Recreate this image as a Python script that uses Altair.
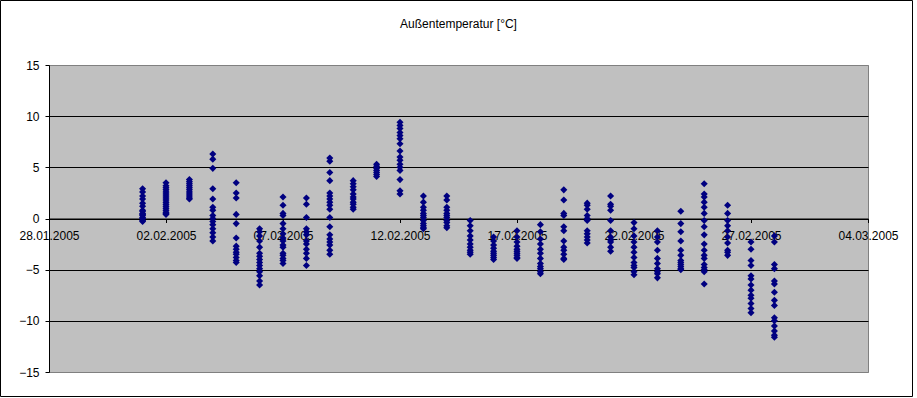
import altair as alt
import pandas as pd

days = ["2005-02-%02d" % d for d in range(1, 29)]

d01 = [2.9, 2.6, 2.2, 1.9, 1.5, 1.2, 0.8, 0.7, 0.5, 0.4, 0.3, 0.1, 0.0, -0.2, -0.3]
d02 = [3.5, 3.2, 3.0, 2.8, 2.6, 2.4, 2.2, 2.0, 1.8, 1.6, 1.4, 1.2, 1.0, 0.8, 0.6, 0.5, 0.4]
d03 = [3.8, 3.6, 3.4, 3.2, 3.0, 2.8, 2.6, 2.4, 2.2, 2.0, 1.9]
d04 = [6.3, 5.8, 4.9, 2.9, 1.9, 1.1, 0.8, 0.3, 0.0, -0.3, -0.6, -1.0, -1.4, -1.8, -2.2]
d05 = [3.5, 2.5, 2.0, 0.4, -0.5, -1.9, -2.7, -3.0, -3.3, -3.5, -3.8, -4.1, -4.3]
d06 = [-1.0, -1.3, -1.7, -2.2, -2.8, -3.4, -3.7, -4.0, -4.3, -4.6, -4.9, -5.2, -5.6, -6.1, -6.5]
d07 = [2.1, 1.3, 0.5, 0.3, -0.5, -1.0, -1.5, -1.9, -2.2, -2.6, -2.8, -3.4, -3.6, -3.9, -4.1, -4.4]
d08 = [2.0, 1.4, 0.1, -1.0, -1.3, -1.6, -2.2, -2.5, -3.0, -3.4, -3.9, -4.6]
d09 = [5.9, 5.6, 4.5, 3.7, 2.5, 2.2, 1.9, 1.6, 1.3, 0.9, 0.1, -0.8, -1.6, -2.0, -2.3, -2.6, -3.1, -3.5]
d10 = [3.7, 3.4, 3.1, 2.8, 2.4, 2.1, 1.9, 1.6, 1.4, 1.1, 0.9]
d11 = [5.3, 5.1, 4.9, 4.7, 4.5, 4.3, 4.1]
d12 = [9.4, 9.1, 8.8, 8.4, 8.1, 7.8, 7.3, 6.6, 6.0, 5.7, 5.3, 5.0, 4.7, 3.8, 2.7, 2.4]
d13 = [2.2, 1.6, 1.1, 0.8, 0.5, 0.3, 0.1, -0.2, -0.5, -0.7, -0.9, -1.0]
d14 = [2.2, 1.8, 1.1, 0.8, 0.5, 0.3, 0.1, -0.2, -0.4, -0.7, -0.9]
d15 = [-0.2, -0.7, -1.2, -1.7, -2.1, -2.5, -2.8, -3.1, -3.3, -3.5]
d16 = [-1.8, -2.2, -2.6, -2.9, -3.2, -3.4, -3.6, -3.8, -4.0]
d17 = [-1.2, -1.8, -2.3, -2.7, -3.0, -3.2, -3.4, -3.6, -3.8, -3.9]
d18 = [-0.6, -1.3, -2.0, -2.5, -3.0, -3.4, -3.9, -4.4, -4.7, -4.9, -5.2, -5.4]
d19 = [2.8, 1.8, 0.5, 0.3, -0.8, -1.2, -2.2, -2.8, -3.1, -3.5, -3.9, -4.0]
d20 = [1.5, 1.3, 0.9, 0.3, 0.0, -0.2, -1.2, -1.5, -1.8, -2.1, -2.4]
d21 = [2.2, 1.4, 1.2, 0.8, -0.2, -1.2, -1.8, -2.1, -2.3, -2.8, -3.2]
d22 = [-0.4, -1.0, -1.7, -2.3, -2.8, -3.3, -3.8, -4.3, -4.6, -4.8, -5.2, -5.5]
d23 = [-1.2, -1.8, -2.3, -3.1, -3.9, -4.4, -4.9, -5.2, -5.4, -5.8]
d24 = [0.7, -0.5, -1.3, -2.2, -3.1, -3.6, -4.1, -4.3, -4.5, -4.7, -4.9, -5.0]
d25 = [3.4, 2.4, 2.1, 1.6, 1.1, 0.5, -0.2, -0.8, -1.6, -2.5, -3.1, -3.6, -3.9, -4.5, -4.8, -5.0, -5.2, -6.4]
d26 = [1.3, 0.5, -0.2, -0.7, -1.2, -1.8, -2.4, -3.1, -3.3, -3.6]
d27 = [-2.3, -3.0, -4.1, -4.6, -5.6, -5.9, -6.5, -7.0, -7.5, -7.8, -8.3, -8.8, -9.2]
d28 = [-1.7, -2.3, -4.5, -4.9, -6.1, -6.4, -7.2, -8.0, -8.5, -9.7, -10.0, -10.5, -11.0, -11.4, -11.6]

temps = [d01, d02, d03, d04, d05, d06, d07, d08, d09, d10, d11, d12, d13, d14,
         d15, d16, d17, d18, d19, d20, d21, d22, d23, d24, d25, d26, d27, d28]

x_tick_dates = ["2005-01-28", "2005-02-02", "2005-02-07", "2005-02-12",
                "2005-02-17", "2005-02-22", "2005-02-27", "2005-03-04"]
y_ticks = [-15, -10, -5, 0, 5, 10, 15]

title_text = "Außentemperatur [°C]"


def ms(d):
    return int(pd.Timestamp(d, tz="UTC").value // 10**6)


rows = [{"datum": ms(d), "temp": t} for d, ts in zip(days, temps) for t in ts]
df = pd.DataFrame(rows)

x_vals = [ms(d) for d in x_tick_dates]

FONT = "Liberation Sans"
W, H = 819, 307

points = alt.Chart(df).mark_point(
    shape="diamond", filled=True, size=50, color="#000080", opacity=1
).encode(
    x=alt.X(
        "datum:T",
        scale=alt.Scale(type="utc", domain=[x_vals[0], x_vals[-1]]),
        axis=alt.Axis(
            title=None,
            values=x_vals,
            labelExpr="utcFormat(datum.value, '%d.%m.%Y')",
            offset=-H / 2,
            grid=False,
            domainColor="black",
            tickColor="black",
            tickSize=4,
            labelPadding=8,
            labelFont=FONT,
            labelFontSize=12,
            labelColor="black",
            labelFlush=False,
            labelOverlap=False,
            labelBound=False,
        ),
    ),
    y=alt.Y(
        "temp:Q",
        scale=alt.Scale(domain=[-15, 15], nice=False, zero=False),
        axis=alt.Axis(
            title=None,
            values=y_ticks,
            grid=True,
            gridColor=alt.condition("abs(datum.value) == 15", alt.value("#808080"), alt.value("black")),
            gridOpacity=1,
            domainColor="black",
            tickColor="black",
            tickSize=4,
            labelPadding=6,
            labelFont=FONT,
            labelFontSize=12,
            labelColor="black",
            labelFlush=False,
        ),
    ),
)

frame = alt.Chart(pd.DataFrame({"k": [0]})).mark_rect(
    fill=None, stroke="black", strokeWidth=1
).encode(
    x=alt.value(-48.5), x2=alt.value(863.5),
    y=alt.value(-64.5), y2=alt.value(331.5),
)

title = alt.Chart(pd.DataFrame({"t": [title_text]})).mark_text(
    font=FONT, fontSize=12, color="black", align="center", baseline="middle"
).encode(
    text="t:N",
    x=alt.value(W / 2),
    y=alt.value(-41),
)

chart = alt.layer(frame, title, points).properties(
    width=W,
    height=H,
    autosize=alt.AutoSizeParams(type="none"),
    padding={"left": 49, "top": 65, "right": 49, "bottom": 26},
    background="white",
).configure_view(
    fill="#C0C0C0", stroke="#808080", strokeWidth=1
)

chart.save("out.html", embed_options={"renderer": "svg", "actions": False})
